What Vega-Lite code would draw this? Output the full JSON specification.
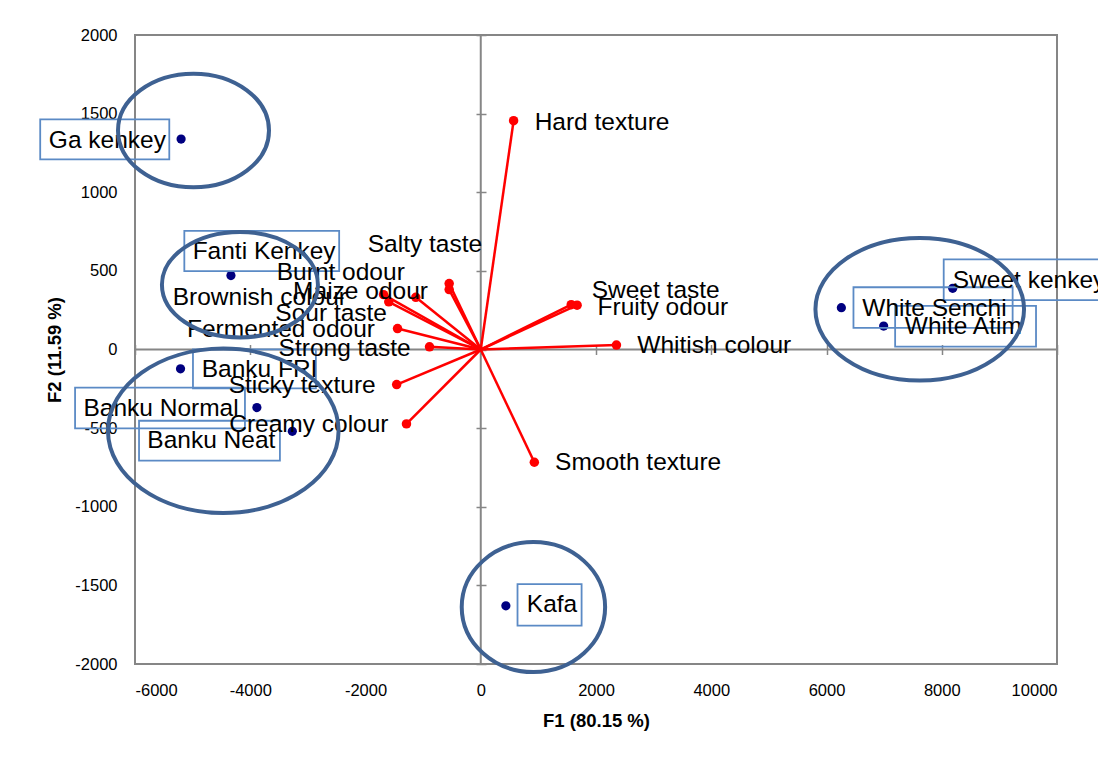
{
  "$schema": "https://vega.github.io/schema/vega-lite/v6.json",
  "width": 922,
  "height": 629,
  "autosize": {"type": "none"},
  "padding": {"left": 135, "top": 35, "right": 41, "bottom": 98},
  "background": "white",
  "config": {
    "view": {"stroke": "#868686", "strokeWidth": 2},
    "font": "Liberation Sans"
  },
  "datasets": {
    "origin": [{"F1": 0, "F2": 0}],
    "products": [
      {"name": "Ga kenkey", "F1": -5200, "F2": 1338, "lx": -7495, "ly": 1327, "bx": -7645, "bx2": -5405, "by": 1464, "by2": 1209},
      {"name": "Fanti Kenkey", "F1": -4335, "F2": 470, "lx": -5000, "ly": 618, "bx": -5144, "bx2": -2457, "by": 755, "by2": 499},
      {"name": "Banku FRI", "F1": -5210, "F2": -123, "lx": -4843, "ly": -130, "bx": -4994, "bx2": -2861, "by": 1, "by2": -247},
      {"name": "Banku Normal", "F1": -3885, "F2": -369, "lx": -6895, "ly": -378, "bx": -7040, "bx2": -4092, "by": -243, "by2": -501},
      {"name": "Banku Neat", "F1": -3270, "F2": -520, "lx": -5786, "ly": -582, "bx": -5930, "bx2": -3485, "by": -453, "by2": -707},
      {"name": "Kafa", "F1": 436, "F2": -1630, "lx": 800, "ly": -1623, "bx": 638, "bx2": 1750, "by": -1492, "by2": -1756},
      {"name": "White Senchi", "F1": 6258, "F2": 266, "lx": 6621, "ly": 256, "bx": 6468, "bx2": 9230, "by": 396, "by2": 137},
      {"name": "White Atim", "F1": 6992, "F2": 149, "lx": 7358, "ly": 140, "bx": 7191, "bx2": 9636, "by": 277, "by2": 18},
      {"name": "Sweet kenkey", "F1": 8190, "F2": 389, "lx": 8191, "ly": 434, "bx": 8034, "bx2": 11000, "by": 573, "by2": 314}
    ],
    "attributes": [
      {"name": "Hard texture", "F1": 570, "F2": 1455, "lx": 935, "ly": 1443},
      {"name": "Salty taste", "F1": -548, "F2": 419, "lx": -1961, "ly": 667},
      {"name": "Burnt odour", "F1": -1127, "F2": 332, "lx": -3540, "ly": 489},
      {"name": "Maize odour", "F1": -548, "F2": 381, "lx": -3256, "ly": 367},
      {"name": "Brownish colour", "F1": -1687, "F2": 349, "lx": -5346, "ly": 327},
      {"name": "Sour taste", "F1": -1596, "F2": 303, "lx": -3565, "ly": 227},
      {"name": "Fermented odour", "F1": -1444, "F2": 133, "lx": -5098, "ly": 125},
      {"name": "Strong taste", "F1": -889, "F2": 17, "lx": -3508, "ly": 2},
      {"name": "Sticky texture", "F1": -1459, "F2": -223, "lx": -4375, "ly": -233},
      {"name": "Creamy colour", "F1": -1289, "F2": -473, "lx": -4365, "ly": -481},
      {"name": "Smooth texture", "F1": 930, "F2": -717, "lx": 1290, "ly": -722},
      {"name": "Sweet taste", "F1": 1570, "F2": 285, "lx": 1925, "ly": 371},
      {"name": "Fruity odour", "F1": 1672, "F2": 282, "lx": 2027, "ly": 267},
      {"name": "Whitish colour", "F1": 2355, "F2": 28, "lx": 2717, "ly": 23}
    ],
    "groups": [
      {"group": "Ga", "F1": -4985, "F2": 1393},
      {"group": "Fanti", "F1": -4179, "F2": 412},
      {"group": "Banku", "F1": -4468, "F2": -517},
      {"group": "Kafa", "F1": 914, "F2": -1638},
      {"group": "Right", "F1": 7618, "F2": 256}
    ]
  },
  "layer": [
    {
      "data": {"name": "origin"},
      "mark": {"type": "rule", "color": "#868686", "strokeWidth": 2},
      "encoding": {
        "x": {"field": "F1", "type": "quantitative", "scale": {"domain": [-6000, 10000], "nice": false, "zero": false}, "axis": null}
      }
    },
    {
      "data": {"name": "origin"},
      "mark": {"type": "rule", "color": "#868686", "strokeWidth": 2},
      "encoding": {
        "y": {"field": "F2", "type": "quantitative", "scale": {"domain": [-2000, 2000], "nice": false, "zero": false}, "axis": null}
      }
    },
    {
      "data": {"name": "attributes"},
      "mark": {"type": "rule", "color": "#FF0000", "strokeWidth": 2.5},
      "encoding": {
        "x": {"field": "F1", "type": "quantitative", "scale": {"domain": [-6000, 10000], "nice": false, "zero": false}, "axis": null},
        "y": {"field": "F2", "type": "quantitative", "scale": {"domain": [-2000, 2000], "nice": false, "zero": false}, "axis": null},
        "x2": {"datum": 0},
        "y2": {"datum": 0}
      }
    },
    {
      "data": {"name": "attributes"},
      "mark": {"type": "point", "filled": true, "color": "#FF0000", "size": 90, "opacity": 1},
      "encoding": {
        "x": {"field": "F1", "type": "quantitative", "scale": {"domain": [-6000, 10000], "nice": false, "zero": false},
          "axis": {"orient": "top", "offset": -319.5, "values": [-6000, -4000, -2000, 0, 2000, 4000, 6000, 8000, 10000], "labels": false, "domain": false, "grid": false, "ticks": true, "tickSize": 10, "tickColor": "#868686", "tickWidth": 1.5, "title": null}},
        "y": {"field": "F2", "type": "quantitative", "scale": {"domain": [-2000, 2000], "nice": false, "zero": false},
          "axis": {"orient": "right", "offset": -581, "values": [-2000, -1500, -1000, -500, 0, 500, 1000, 1500, 2000], "labels": false, "domain": false, "grid": false, "ticks": true, "tickSize": 10, "tickColor": "#868686", "tickWidth": 1.5, "title": null}}
      }
    },
    {
      "data": {"name": "products"},
      "mark": {"type": "point", "filled": true, "color": "#000080", "size": 85, "opacity": 1},
      "encoding": {
        "x": {"field": "F1", "type": "quantitative", "scale": {"domain": [-6000, 10000], "nice": false, "zero": false},
          "axis": {"orient": "bottom", "title": "F1 (80.15 %)", "values": [-6000, -4000, -2000, 0, 2000, 4000, 6000, 8000, 10000], "labelExpr": "'' + datum.value", "ticks": false, "domain": false, "grid": false, "labelFontSize": 16.5, "labelPadding": 18, "labelColor": "#000000", "titleFontSize": 18.5, "titleFontWeight": "bold", "titleColor": "#000000", "titlePadding": 13}},
        "y": {"field": "F2", "type": "quantitative", "scale": {"domain": [-2000, 2000], "nice": false, "zero": false},
          "axis": {"orient": "left", "title": "F2 (11.59 %)", "values": [-2000, -1500, -1000, -500, 0, 500, 1000, 1500, 2000], "labelExpr": "'' + datum.value", "ticks": false, "domain": false, "grid": false, "labelFontSize": 16.5, "labelPadding": 18, "labelColor": "#000000", "titleFontSize": 18.5, "titleFontWeight": "bold", "titleColor": "#000000", "titlePadding": 10}}
      }
    },
    {
      "data": {"name": "products"},
      "mark": {"type": "rect", "fillOpacity": 0, "stroke": "#5B8AC5", "strokeWidth": 1.8},
      "encoding": {
        "x": {"field": "bx", "type": "quantitative", "scale": {"domain": [-6000, 10000], "nice": false, "zero": false}, "axis": null},
        "x2": {"field": "bx2"},
        "y": {"field": "by", "type": "quantitative", "scale": {"domain": [-2000, 2000], "nice": false, "zero": false}, "axis": null},
        "y2": {"field": "by2"}
      }
    },
    {
      "data": {"name": "products"},
      "mark": {"type": "text", "align": "left", "baseline": "middle", "fontSize": 24.5, "color": "#000000"},
      "encoding": {
        "x": {"field": "lx", "type": "quantitative", "scale": {"domain": [-6000, 10000], "nice": false, "zero": false}, "axis": null},
        "y": {"field": "ly", "type": "quantitative", "scale": {"domain": [-2000, 2000], "nice": false, "zero": false}, "axis": null},
        "text": {"field": "name"}
      }
    },
    {
      "data": {"name": "attributes"},
      "mark": {"type": "text", "align": "left", "baseline": "middle", "fontSize": 24.5, "color": "#000000"},
      "encoding": {
        "x": {"field": "lx", "type": "quantitative", "scale": {"domain": [-6000, 10000], "nice": false, "zero": false}, "axis": null},
        "y": {"field": "ly", "type": "quantitative", "scale": {"domain": [-2000, 2000], "nice": false, "zero": false}, "axis": null},
        "text": {"field": "name"}
      }
    },
    {
      "data": {"name": "groups"},
      "mark": {"type": "point", "filled": false, "stroke": "#3E6192", "strokeWidth": 4, "size": 4, "opacity": 1},
      "encoding": {
        "x": {"field": "F1", "type": "quantitative", "scale": {"domain": [-6000, 10000], "nice": false, "zero": false}, "axis": null},
        "y": {"field": "F2", "type": "quantitative", "scale": {"domain": [-2000, 2000], "nice": false, "zero": false}, "axis": null},
        "shape": {
          "field": "group",
          "type": "nominal",
          "legend": null,
          "scale": {
            "domain": ["Ga", "Fanti", "Banku", "Kafa", "Right"],
            "range": [
              "M -75.5 0 A 75.5 56.8 0 1 0 75.5 0 A 75.5 56.8 0 1 0 -75.5 0 Z",
              "M -78 0 A 78 52.7 0 1 0 78 0 A 78 52.7 0 1 0 -78 0 Z",
              "M -115.3 0 A 115.3 82.2 0 1 0 115.3 0 A 115.3 82.2 0 1 0 -115.3 0 Z",
              "M -71.7 0 A 71.7 65 0 1 0 71.7 0 A 71.7 65 0 1 0 -71.7 0 Z",
              "M -104.3 0 A 104.3 71.3 0 1 0 104.3 0 A 104.3 71.3 0 1 0 -104.3 0 Z"
            ]
          }
        }
      }
    }
  ],
  "resolve": {"axis": {"x": "independent", "y": "independent"}}
}
